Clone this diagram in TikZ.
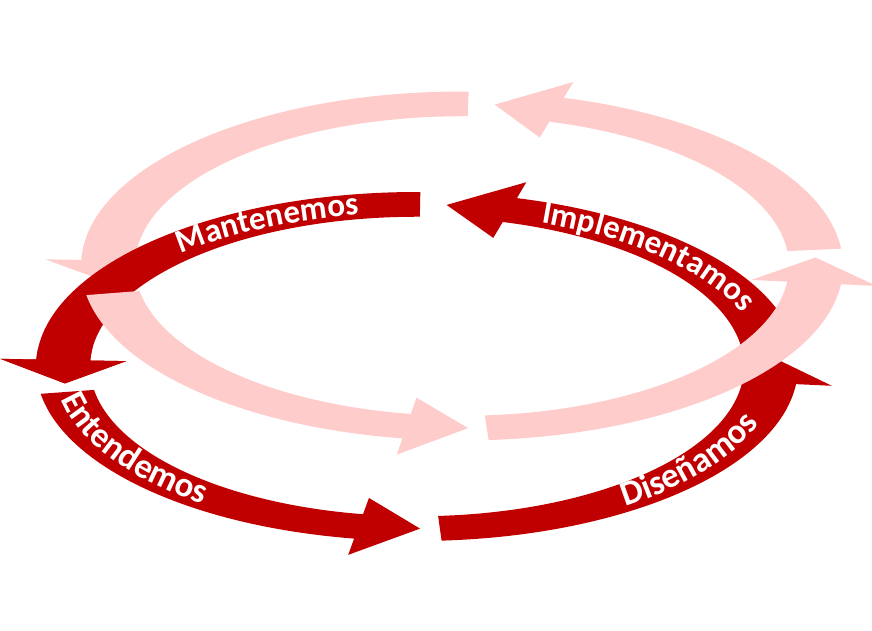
\documentclass[tikz,border=0pt]{standalone}
\usepackage{fontspec}
\newfontfamily\ringfont{Carlito}
\usepackage{xcolor}
\usepackage{tikz}
\usetikzlibrary{decorations.text}
\definecolor{ringred}{HTML}{C00000}
\definecolor{ringpink}{HTML}{FFCCCC}
% one arrow of a flat ring: #1 centre, #2 tail, #3 head base, #4 tip, #5 colour
\newcommand\drawringarrow[5]{%
	\begin{scope}[shift={#1},yscale=0.458]
	\fill[#5] (#2:381) arc[start angle=#2,end angle=#3,radius=381]
		-- (#3:417) -- (#4:354) -- (#3:291) -- (#3:327)
		arc[start angle=#3,end angle=#2,radius=327] -- cycle;
	\end{scope}
}
% label along the ring: [size], #2 centre, #3 start, #4 end, #5 #6 radii, #7 text
\newcommand\ringlabel[7][33]{%
	\path[shift={#2},decorate,decoration={text along path,
		text={|\ringfont\bfseries\fontsize{#1}{40}\selectfont\color{white}|#7}}]
		(#3:#5 and #6) arc[start angle=#3,end angle=#4,x radius=#5,y radius=#6];
}

\begin{document}
\begin{tikzpicture}[x=1pt,y=1pt]
\useasboundingbox (0,0) rectangle (872,630);
\coordinate (pinkc) at (462,364);
\coordinate (redc) at (417,263.5);

% pink ring, part behind
\drawringarrow{(pinkc)}{89}{178}{186}{ringpink}

% red ring
\drawringarrow{(redc)}{89.5}{177.7}{186}{ringred}
\drawringarrow{(redc)}{189}{260.5}{270.5}{ringred}
\drawringarrow{(redc)}{273.7}{354.2}{363.7}{ringred}
\drawringarrow{(redc)}{6}{74.8}{85.2}{ringred}
\ringlabel{(redc)}{133}{60}{346}{154}{Mantenemos}
\ringlabel{(redc)}{69}{-10}{346}{154}{Implementamos}
\ringlabel[35]{(redc)}{191}{270}{363}{171}{Entendemos}
\ringlabel[35]{(redc)}{305}{360}{363}{171}{Diseñamos}

% pink ring, parts in front
\drawringarrow{(pinkc)}{189.6}{261}{271}{ringpink}
\drawringarrow{(pinkc)}{274}{354}{363}{ringpink}
\drawringarrow{(pinkc)}{5.7}{74.5}{84.7}{ringpink}

% red head laid over the pink ring
\begin{scope}
\clip (0,0) rectangle (200,282);
\drawringarrow{(redc)}{89.5}{177.7}{186}{ringred}
\end{scope}
\end{tikzpicture}
\end{document}
